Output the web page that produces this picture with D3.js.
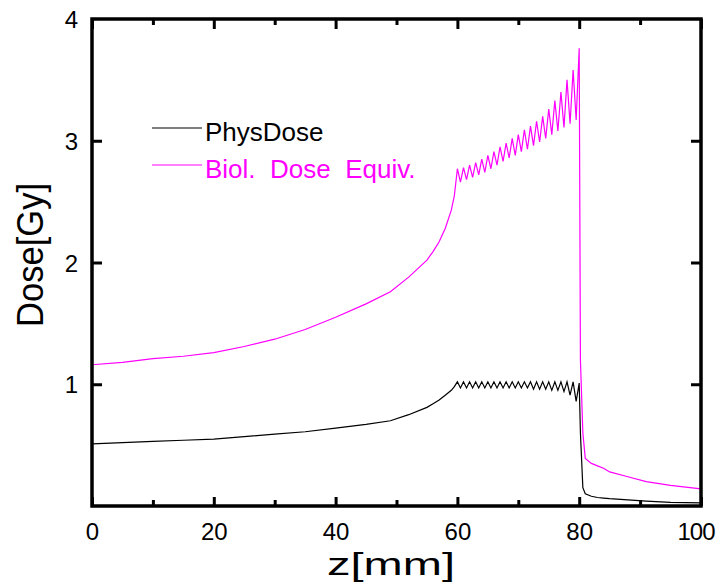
<!DOCTYPE html>
<html>
<head>
<meta charset="utf-8">
<script src="https://cdn.jsdelivr.net/npm/d3@7"></script>
<style>
  body { margin: 0; background: #fff; }
  text { font-family: "Liberation Sans", Arial, sans-serif; }
</style>
</head>
<body>
<svg width="718" height="582"></svg>
<script>
// depth in mm, shared by both curves
var zValues = [0, 5, 10, 15, 20, 25, 30, 35, 40, 45, 49, 52, 55, 56, 57, 58, 59, 59.5,
  60, 60.5, 61, 61.5, 62, 62.5, 63, 63.5, 64, 64.5, 65, 65.5, 66, 66.5, 67, 67.5, 68, 68.5,
  69, 69.5, 70, 70.5, 71, 71.5, 72, 72.5, 73, 73.5, 74, 74.5, 75, 75.5, 76, 76.5, 77, 77.5,
  78, 78.5, 79, 79.5, 80,
  80.2, 80.6, 81, 82, 83, 84, 85, 88, 91, 95, 100];

var physDose = [0.51, 0.52, 0.53, 0.54, 0.55, 0.57, 0.59, 0.61, 0.64, 0.67, 0.70, 0.75, 0.81, 0.84, 0.87, 0.91, 0.95, 0.98,
  1.02, 0.97, 1.02, 0.97, 1.02, 0.97, 1.02, 0.97, 1.02, 0.97, 1.02, 0.97, 1.02, 0.97, 1.02, 0.97, 1.02, 0.97,
  1.02, 0.97, 1.02, 0.97, 1.02, 0.97, 1.02, 0.96, 1.02, 0.96, 1.02, 0.96, 1.02, 0.95, 1.02, 0.95, 1.02, 0.94,
  1.02, 0.91, 1.02, 0.86, 1.01,
  0.60, 0.15, 0.10, 0.08, 0.07, 0.065, 0.06, 0.05, 0.04, 0.03, 0.025];

var biolDose = [1.16, 1.18, 1.21, 1.23, 1.26, 1.31, 1.37, 1.45, 1.55, 1.66, 1.76, 1.88, 2.02, 2.09, 2.17, 2.28, 2.43, 2.55,
  2.77, 2.66, 2.78, 2.68, 2.80, 2.70, 2.82, 2.72, 2.85, 2.74, 2.88, 2.77, 2.91, 2.80, 2.95, 2.83, 2.98, 2.86,
  3.02, 2.88, 3.05, 2.91, 3.09, 2.93, 3.12, 2.96, 3.16, 2.99, 3.20, 3.02, 3.26, 3.05, 3.33, 3.08, 3.40, 3.11,
  3.50, 3.14, 3.58, 3.17, 3.76,
  1.20, 0.60, 0.39, 0.35, 0.33, 0.31, 0.28, 0.24, 0.20, 0.17, 0.14];

var xMajorTicks = [0, 20, 40, 60, 80, 100];
var xMinorTicks = [10, 30, 50, 70, 90];
var yTicks = [1, 2, 3];
var yLabels = [1, 2, 3, 4];

var seriesNames = ["PhysDose", "Biol.  Dose  Equiv."];
var seriesColors = ["#000000", "#ff00ff"];

var svg = d3.select("svg");
var plotLeft = 92, plotRight = 701, plotTop = 19, plotBottom = 506;

var x = d3.scaleLinear().domain([0, 100]).range([plotLeft, plotRight]);
var y = d3.scaleLinear().domain([0, 4]).range([plotBottom, plotTop]);

var plot = svg.append("g");

// curves
var series = [physDose, biolDose];
series.forEach(function(vals, k)
{
  var pts = zValues.map(function(z, i) { return [z, vals[i]]; });
  plot.append("path")
      .datum(pts)
      .attr("fill", "none")
      .attr("stroke", seriesColors[k])
      .attr("stroke-width", 1.2)
      .attr("d", d3.line()
        .x(function(d) { return x(d[0]); })
        .y(function(d) { return y(d[1]); }));
});

// axes, ticks pointing inward
function styleAxis(g)
{
  g.select(".domain").remove();
  g.selectAll(".tick line").attr("stroke", "#000").attr("stroke-width", 3);
  g.selectAll(".tick text").attr("font-size", 24).attr("fill", "#000");
}

var xAxisG = svg.append("g")
   .attr("transform", "translate(0," + plotBottom + ")")
   .call(d3.axisBottom(x).tickValues(xMajorTicks).tickSize(-9).tickPadding(17).tickFormat(d3.format("d")))
   .call(styleAxis);
// last label sits flush with the right edge like the original
xAxisG.selectAll(".tick text")
   .filter(function(d) { return d === 100; })
   .attr("text-anchor", "end")
   .attr("x", 13)
   .attr("letter-spacing", -1);
svg.append("g")
   .attr("transform", "translate(0," + plotBottom + ")")
   .call(d3.axisBottom(x).tickValues(xMinorTicks).tickSize(-6).tickFormat(""))
   .call(styleAxis);
svg.append("g")
   .attr("transform", "translate(0," + plotTop + ")")
   .call(d3.axisTop(x).tickValues(xMajorTicks).tickSize(-10).tickFormat(""))
   .call(styleAxis);
svg.append("g")
   .attr("transform", "translate(0," + plotTop + ")")
   .call(d3.axisTop(x).tickValues(xMinorTicks).tickSize(-6).tickFormat(""))
   .call(styleAxis);
svg.append("g")
   .attr("transform", "translate(" + plotLeft + ",0)")
   .call(d3.axisLeft(y).tickValues(yTicks).tickSize(-10).tickFormat(""))
   .call(styleAxis);
svg.append("g")
   .attr("transform", "translate(" + plotLeft + ",0)")
   .call(d3.axisLeft(y).tickValues(yLabels).tickSize(0).tickPadding(14).tickFormat(d3.format("d")))
   .call(styleAxis)
   .selectAll(".tick text").attr("dy", "0.36em");
svg.append("g")
   .attr("transform", "translate(" + plotRight + ",0)")
   .call(d3.axisRight(y).tickValues(yTicks).tickSize(-10).tickFormat(""))
   .call(styleAxis);

// frame
svg.append("rect")
   .attr("x", plotLeft)
   .attr("y", plotTop)
   .attr("width", plotRight - plotLeft)
   .attr("height", plotBottom - plotTop)
   .attr("fill", "none")
   .attr("stroke", "#000")
   .attr("stroke-width", 3.5);

// axis titles
svg.append("text")
   .text("z[mm]")
   .attr("x", 391)
   .attr("y", 575)
   .attr("text-anchor", "middle")
   .attr("font-size", 32)
   .attr("textLength", 128)
   .attr("lengthAdjust", "spacingAndGlyphs");
svg.append("text")
   .text("Dose[Gy]")
   .attr("transform", "translate(43,255) rotate(-90)")
   .attr("text-anchor", "middle")
   .attr("font-size", 36)
   .attr("textLength", 144)
   .attr("lengthAdjust", "spacingAndGlyphs");

// legend
var legendY = [128, 165];
seriesNames.forEach(function(name, k)
{
  svg.append("line")
     .attr("x1", 152).attr("x2", 202)
     .attr("y1", legendY[k]).attr("y2", legendY[k])
     .attr("stroke", seriesColors[k])
     .attr("stroke-width", 1.2);
  svg.append("text")
     .text(name)
     .attr("x", 205)
     .attr("y", legendY[k] + 13)
     .attr("font-size", 26)
     .attr("fill", seriesColors[k])
     .style("white-space", "pre");
});
</script>
</body>
</html>
